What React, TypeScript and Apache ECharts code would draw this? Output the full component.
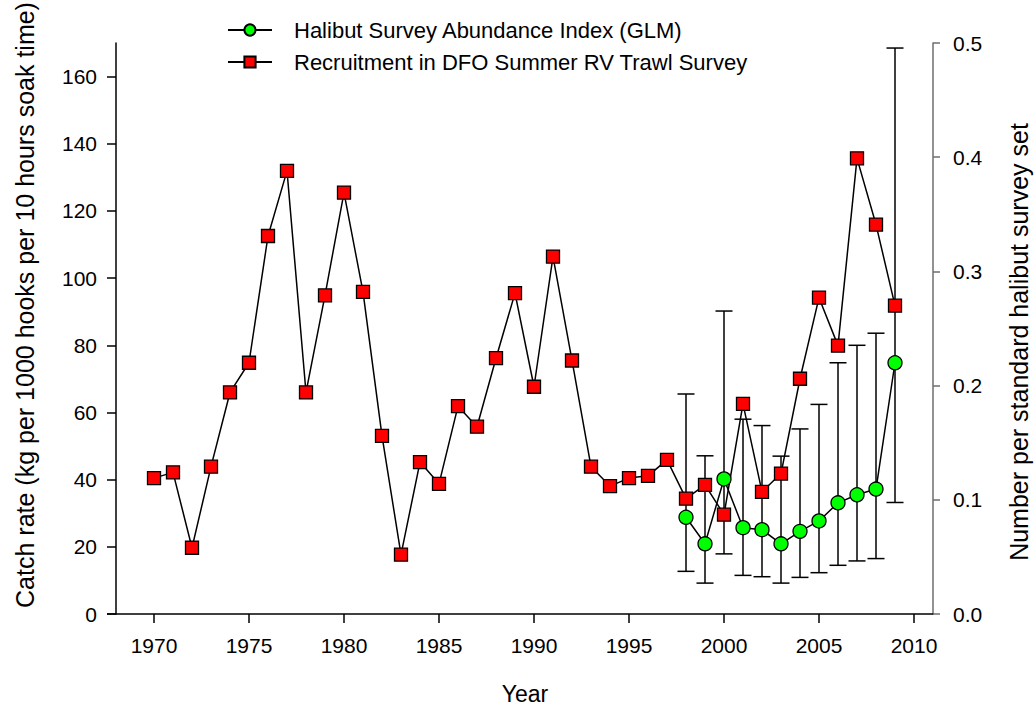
import React, { useEffect, useRef } from "react";
import * as echarts from "echarts";

const years = [
  1970, 1971, 1972, 1973, 1974, 1975, 1976, 1977, 1978, 1979,
  1980, 1981, 1982, 1983, 1984, 1985, 1986, 1987, 1988, 1989,
  1990, 1991, 1992, 1993, 1994, 1995, 1996, 1997, 1998, 1999,
  2000, 2001, 2002, 2003, 2004, 2005, 2006, 2007, 2008, 2009,
];

// Recruitment in DFO Summer RV Trawl Survey (right axis, number per set)
const recruitment = [
  0.119, 0.124, 0.058, 0.129, 0.194, 0.22, 0.331, 0.388, 0.194, 0.279,
  0.369, 0.282, 0.156, 0.052, 0.133, 0.114, 0.182, 0.164, 0.224, 0.281,
  0.199, 0.313, 0.222, 0.129, 0.112, 0.119, 0.121, 0.135, 0.101, 0.113,
  0.087, 0.184, 0.107, 0.123, 0.206, 0.277, 0.235, 0.399, 0.341, 0.27,
];

// Halibut Survey Abundance Index (GLM) (left axis, catch rate)
const surveyYears = [1998, 1999, 2000, 2001, 2002, 2003, 2004, 2005, 2006, 2007, 2008, 2009];
const surveyIndex = [28.8, 20.9, 40.2, 25.7, 25.1, 20.9, 24.6, 27.7, 33.1, 35.5, 37.2, 74.8];
const surveyLow = [12.7, 9.2, 17.9, 11.5, 11.1, 9.2, 10.9, 12.3, 14.5, 15.8, 16.5, 33.2];
const surveyHigh = [65.5, 47.1, 90.2, 58.0, 56.1, 47.0, 55.1, 62.4, 74.8, 80.0, 83.6, 168.5];

const xTicks = [1970, 1975, 1980, 1985, 1990, 1995, 2000, 2005, 2010];
const leftTicks = [0, 20, 40, 60, 80, 100, 120, 140, 160];

const FONT = "'Liberation Sans', Arial, sans-serif";
const NAME_GREEN = "Halibut Survey Abundance Index (GLM)";
const NAME_RED = "Recruitment in DFO Summer RV Trawl Survey";

export default function App() {
  const ref = useRef<HTMLDivElement>(null);

  useEffect(() => {
    if (!ref.current) return;
    const chart = echarts.init(ref.current, undefined, { renderer: "svg" });

    const redData = years.map((y, i) => [y, recruitment[i]]);
    const greenData = surveyYears.map((y, i) => [y, surveyIndex[i]]);
    const errData = surveyYears.map((y, i) => [y, surveyLow[i], surveyHigh[i]]);

    const option: any = {
      animation: false,
      backgroundColor: "#ffffff",
      textStyle: { fontFamily: FONT },
      grid: { left: 116, right: 103, top: 43, bottom: 94, containLabel: false },
      legend: {
        orient: "vertical",
        left: 222,
        top: 14,
        itemWidth: 44,
        itemHeight: 14,
        itemGap: 10,
        data: [NAME_GREEN, NAME_RED],
        textStyle: {
          fontSize: 22,
          color: "#000",
          fontFamily: FONT,
          lineHeight: 22,
          padding: [0, 0, 0, 17],
        },
      },
      xAxis: {
        type: "value",
        min: 1968,
        max: 2011,
        axisLine: { show: true, onZero: false, lineStyle: { color: "#000", width: 1.5 } },
        axisTick: { show: true, customValues: xTicks, length: 9, lineStyle: { color: "#000", width: 1.5 } },
        axisLabel: {
          customValues: xTicks,
          fontSize: 21,
          color: "#000",
          margin: 21,
          fontFamily: FONT,
          formatter: (v: number) => String(v),
        },
        splitLine: { show: false },
      },
      yAxis: [
        {
          type: "value",
          min: 0,
          max: 170,
          position: "left",
          axisLine: { show: true, lineStyle: { color: "#000", width: 1.5 } },
          axisTick: { show: true, customValues: leftTicks, length: 9, lineStyle: { color: "#000", width: 1.5 } },
          axisLabel: { customValues: leftTicks, fontSize: 21, color: "#000", margin: 19, fontFamily: FONT },
          splitLine: { show: false },
        },
        {
          type: "value",
          min: 0,
          max: 0.5,
          interval: 0.1,
          position: "right",
          axisLine: { show: true, lineStyle: { color: "#6e6e6e", width: 1.5 } },
          axisTick: { show: true, length: 7, lineStyle: { color: "#6e6e6e", width: 1.5 } },
          axisLabel: {
            fontSize: 21,
            color: "#000",
            margin: 20,
            fontFamily: FONT,
            formatter: (v: number) => v.toFixed(1),
          },
          splitLine: { show: false },
        },
      ],
      series: [
        {
          type: "custom",
          name: "errors",
          yAxisIndex: 0,
          z: 1,
          data: errData,
          renderItem: (params: any, api: any) => {
            const lo = api.coord([api.value(0), api.value(1)]);
            const hi = api.coord([api.value(0), api.value(2)]);
            const w = 8.5;
            const st = { stroke: "#000", lineWidth: 1.5 };
            return {
              type: "group",
              children: [
                { type: "line", shape: { x1: lo[0], y1: lo[1], x2: hi[0], y2: hi[1] }, style: st },
                { type: "line", shape: { x1: lo[0] - w, y1: lo[1], x2: lo[0] + w, y2: lo[1] }, style: st },
                { type: "line", shape: { x1: hi[0] - w, y1: hi[1], x2: hi[0] + w, y2: hi[1] }, style: st },
              ],
            };
          },
        },
        {
          type: "line",
          name: NAME_RED,
          yAxisIndex: 1,
          z: 2,
          data: redData,
          symbol: "rect",
          symbolSize: 13,
          showAllSymbol: true,
          lineStyle: { color: "#000", width: 1.5 },
          itemStyle: { color: "#ff0000", borderColor: "#000", borderWidth: 1.3 },
        },
        {
          type: "line",
          name: NAME_GREEN,
          yAxisIndex: 0,
          z: 3,
          data: greenData,
          symbol: "circle",
          symbolSize: 14,
          showAllSymbol: true,
          lineStyle: { color: "#000", width: 1.5 },
          itemStyle: { color: "#00ff00", borderColor: "#000", borderWidth: 1.3 },
        },
      ],
      graphic: [
        {
          type: "line",
          shape: { x1: 107, y1: 614, x2: 116, y2: 614 },
          style: { stroke: "#000", lineWidth: 1.5 },
        },
        {
          type: "text",
          x: 25,
          y: 305,
          rotation: Math.PI / 2,
          style: {
            text: "Catch rate (kg per 1000 hooks per 10 hours soak time)",
            fontSize: 25,
            fontFamily: FONT,
            fill: "#000",
            textAlign: "center",
            textVerticalAlign: "middle",
          },
        },
        {
          type: "text",
          x: 1019,
          y: 342,
          rotation: Math.PI / 2,
          style: {
            text: "Number per standard halibut survey set",
            fontSize: 25,
            fontFamily: FONT,
            fill: "#000",
            textAlign: "center",
            textVerticalAlign: "middle",
          },
        },
        {
          type: "text",
          x: 525,
          y: 694,
          style: {
            text: "Year",
            fontSize: 23,
            fontFamily: FONT,
            fill: "#000",
            textAlign: "center",
            textVerticalAlign: "middle",
          },
        },
      ],
    };

    chart.setOption(option);
    return () => chart.dispose();
  }, []);

  return (
    <div
      ref={ref}
      style={{ position: "fixed", left: 0, top: 0, width: 1036, height: 708, background: "#fff" }}
    />
  );
}
